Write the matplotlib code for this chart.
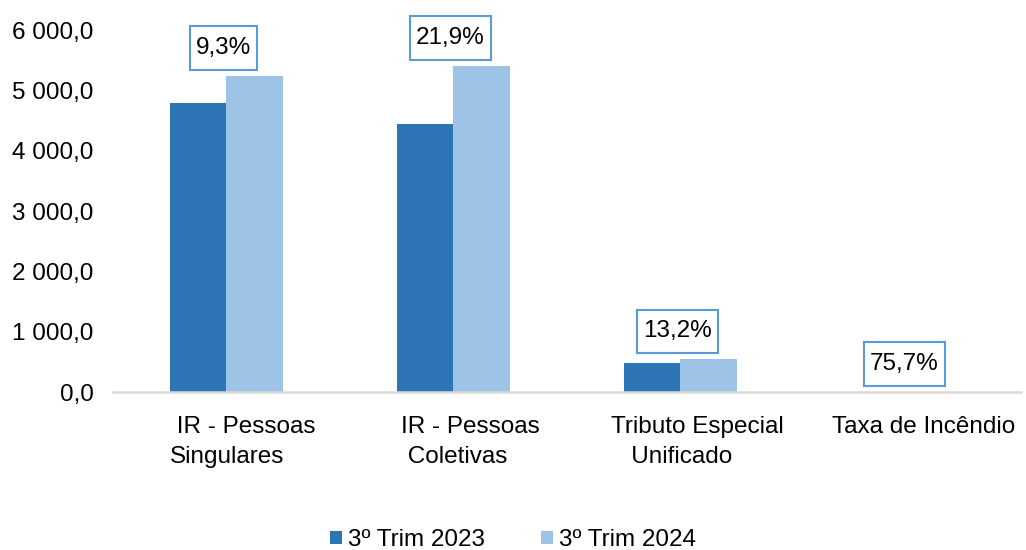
import matplotlib
matplotlib.use("Agg")
import matplotlib.pyplot as plt
import matplotlib.transforms as mtransforms
import numpy as np

categories = [" IR - Pessoas\nSingulares", "IR - Pessoas\n Coletivas",
              "Tributo Especial\n   Unificado", "Taxa de Incêndio"]
trim_2023 = [4800.0, 4440.0, 485.0, 4.2]
trim_2024 = [5246.0, 5412.0, 549.0, 7.4]
growth_labels = ["9,3%", "21,9%", "13,2%", "75,7%"]
series_names = ["3º Trim 2023", "3º Trim 2024"]
yticks = [0, 1000, 2000, 3000, 4000, 5000, 6000]

plt.rcParams['font.family'] = ['Liberation Sans', 'DejaVu Sans']
FS = 17.5
dark = "#2E75B6"
light = "#9DC3E6"
edge = "#5B9BD5"

fig = plt.figure(figsize=(10.26, 5.5), dpi=100)
ax = fig.add_axes([0.110, 0.287, 0.885, 0.658])

x = np.arange(len(categories))
w = 0.25
b1 = ax.bar(x - w / 2, trim_2023, w, color=dark, label=series_names[0])
b2 = ax.bar(x + w / 2, trim_2024, w, color=light, label=series_names[1])

ax.set_xlim(-0.5, len(categories) - 0.5)
ax.set_ylim(0, 6000)
ax.set_yticks(yticks)
ax.set_yticklabels([f"{v:,.1f}".replace(",", " ").replace(".", ",") for v in yticks],
                   fontsize=FS)
ax.set_xticks(x)
ax.set_xticklabels(categories, fontsize=FS, multialignment='left', linespacing=1.5)
ax.tick_params(axis='both', length=0)
ax.tick_params(axis='y', pad=14)
ax.tick_params(axis='x', pad=17)
offset = mtransforms.ScaledTranslation(12 / 72, 0, fig.dpi_scale_trans)
for lbl in ax.get_xticklabels():
    lbl.set_transform(lbl.get_transform() + offset)

for s in ["top", "right", "left"]:
    ax.spines[s].set_visible(False)
ax.spines["bottom"].set_color("#D9D9D9")
ax.spines["bottom"].set_linewidth(1.8)

for i in range(len(categories)):
    top = max(trim_2023[i], trim_2024[i])
    ax.annotate(growth_labels[i], xy=(x[i], top), xytext=(-2, 20),
                textcoords="offset points", ha="center", va="center",
                fontsize=FS,
                bbox=dict(boxstyle="square,pad=0.25", fc="white", ec=edge, lw=1.5,
                          mutation_aspect=1.75))

leg = fig.legend(handles=[b1, b2], labels=series_names, loc="center",
                 bbox_to_anchor=(0.5, 0.018), ncol=2, frameon=False,
                 fontsize=FS, handlelength=0.5, handleheight=0.5,
                 handletextpad=0.25, columnspacing=2.3)

fig.savefig("out.png", dpi=100)
